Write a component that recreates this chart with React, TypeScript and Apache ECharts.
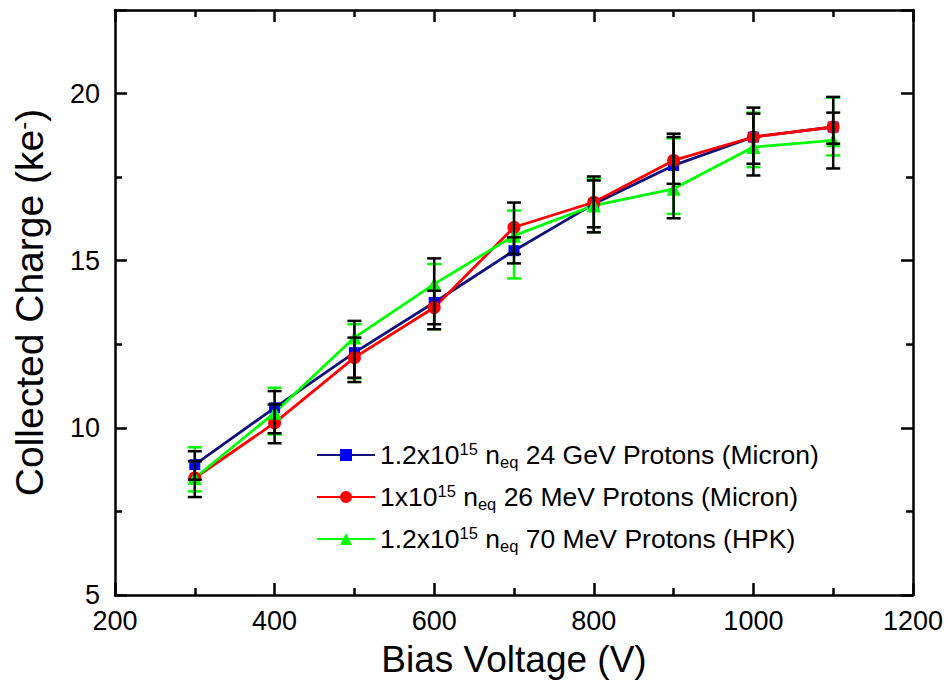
import React, { useEffect, useRef } from "react";
import * as echarts from "echarts";

const voltages = [300, 400, 500, 600, 700, 800, 900, 1000, 1100];
const blueCharge = [8.9, 10.6, 12.25, 13.75, 15.3, 16.7, 17.85, 18.7, 19.0];
const blueLow = [8.45, 9.84, 11.37, 12.95, 14.92, 15.85, 16.27, 17.55, 17.76];
const blueHigh = [9.3, 11.1, 13.2, 15.07, 15.7, 17.52, 18.8, 19.58, 19.9];
const redCharge = [8.5, 10.15, 12.1, 13.6, 16.0, 16.75, 18.0, 18.7, 19.0];
const redLow = [7.93, 9.54, 11.5, 13.1, 15.2, 16.0, 17.3, 17.9, 18.5];
const redHigh = [9.0, 10.7, 12.7, 14.1, 16.74, 17.4, 18.7, 19.4, 19.43];
const greenCharge = [8.5, 10.45, 12.7, 14.3, 15.75, 16.65, 17.15, 18.4, 18.6];
const greenLow = [8.1, 9.8, 11.48, 12.95, 14.47, 15.85, 16.4, 17.8, 18.15];
const greenHigh = [9.42, 11.2, 13.1, 14.9, 16.5, 17.45, 18.66, 19.43, 19.88];

const seriesNames = [
  "1.2x10^15 neq 24 GeV Protons (Micron)",
  "1x10^15 neq 26 MeV Protons (Micron)",
  "1.2x10^15 neq 70 MeV Protons (HPK)",
];
const legendRich = [
  "{t|1.2x10}{sup|15}{t| n}{sub|eq}{t| 24 GeV Protons (Micron)}",
  "{t|1x10}{sup|15}{t| n}{sub|eq}{t| 26 MeV Protons (Micron)}",
  "{t|1.2x10}{sup|15}{t| n}{sub|eq}{t| 70 MeV Protons (HPK)}",
];

const FONT = "Liberation Sans, Arial, sans-serif";

function errSeries(low: number[], high: number[], color: string, z: number) {
  return {
    type: "custom",
    z,
    silent: true,
    data: voltages.map((v, i) => [v, low[i], high[i]]),
    encode: { x: 0, y: [1, 2] },
    renderItem: (params: any, api: any) => {
      const x = api.value(0);
      const lo = api.value(1);
      const hi = api.value(2);
      const p1 = api.coord([x, hi]);
      const p2 = api.coord([x, lo]);
      const w = 7;
      const st = { stroke: color, lineWidth: 2.5 };
      return {
        type: "group",
        children: [
          { type: "line", shape: { x1: p1[0], y1: p1[1], x2: p2[0], y2: p2[1] }, style: st },
          { type: "line", shape: { x1: p1[0] - w, y1: p1[1], x2: p1[0] + w, y2: p1[1] }, style: st },
          { type: "line", shape: { x1: p2[0] - w, y1: p2[1], x2: p2[0] + w, y2: p2[1] }, style: st },
        ],
      };
    },
  };
}

export default function App() {
  const ref = useRef<HTMLDivElement>(null);
  useEffect(() => {
    document.body.style.margin = "0";
    const chart = echarts.init(ref.current!, null, { renderer: "svg" });
    const axisLine = { show: true, lineStyle: { color: "#000", width: 2.5 } };
    const tick = { show: true, inside: true, length: 12, lineStyle: { color: "#000", width: 2.5 } };
    const minor = { show: true, splitNumber: 2, length: 7, lineStyle: { color: "#000", width: 2.5 } };
    const option: any = {
      animation: false,
      backgroundColor: "#fff",
      grid: { left: 115, right: 35, top: 10, bottom: 94, containLabel: false },
      legend: {
        show: true,
        orient: "vertical",
        left: 311,
        top: 435,
        itemGap: 1,
        itemWidth: 58,
        itemHeight: 15,
        data: seriesNames,
        formatter: (name: string) => legendRich[seriesNames.indexOf(name)],
        textStyle: {
          fontFamily: FONT,
          color: "#000",
          rich: {
            t: { fontSize: 26.5, lineHeight: 30, verticalAlign: "middle", fontFamily: FONT, color: "#000" },
            sup: { fontSize: 16.5, lineHeight: 16, verticalAlign: "top", padding: [0, 0, 24, 0], fontFamily: FONT, color: "#000" },
            sub: { fontSize: 16.5, lineHeight: 16, verticalAlign: "bottom", fontFamily: FONT, color: "#000" },
          },
        },
      },
      xAxis: [
        {
          type: "value",
          min: 200,
          max: 1200,
          interval: 200,
          position: "bottom",
          name: "Bias Voltage (V)",
          nameLocation: "middle",
          nameGap: 46,
          nameTextStyle: { fontFamily: FONT, fontSize: 37, color: "#000" },
          axisLine,
          axisTick: tick,
          minorTick: minor,
          splitLine: { show: false },
          axisLabel: { fontFamily: FONT, fontSize: 27, color: "#000", margin: 12, formatter: (v: number) => String(v) },
        },
        {
          type: "value",
          min: 200,
          max: 1200,
          interval: 200,
          position: "top",
          axisLine,
          axisTick: tick,
          minorTick: minor,
          splitLine: { show: false },
          axisLabel: { show: false },
        },
      ],
      yAxis: [
        {
          type: "value",
          min: 5,
          max: 22.5,
          interval: 5,
          position: "left",
          name: "Collected Charge (ke{s|-})",
          nameLocation: "middle",
          nameGap: 66,
          nameTextStyle: {
            fontFamily: FONT,
            fontSize: 39,
            color: "#000",
            rich: {
              s: { fontSize: 24, lineHeight: 24, verticalAlign: "top", padding: [0, 0, 20, 0], fontFamily: FONT, color: "#000" },
            },
          },
          axisLine,
          axisTick: tick,
          minorTick: minor,
          splitLine: { show: false },
          axisLabel: { fontFamily: FONT, fontSize: 27, color: "#000", margin: 15, showMaxLabel: false },
        },
        {
          type: "value",
          min: 5,
          max: 22.5,
          interval: 5,
          position: "right",
          axisLine,
          axisTick: tick,
          minorTick: minor,
          splitLine: { show: false },
          axisLabel: { show: false },
        },
      ],
      series: [
        {
          name: seriesNames[0],
          type: "line",
          z: 3,
          data: voltages.map((v, i) => [v, blueCharge[i]]),
          symbol: "rect",
          symbolSize: 11,
          lineStyle: { color: "#10107a", width: 2.8 },
          itemStyle: { color: "#0000ff" },
        },
        {
          name: seriesNames[1],
          type: "line",
          z: 3,
          data: voltages.map((v, i) => [v, redCharge[i]]),
          symbol: "circle",
          symbolSize: 13,
          lineStyle: { color: "#ff0000", width: 2.8 },
          itemStyle: { color: "#ff0000" },
        },
        {
          name: seriesNames[2],
          type: "line",
          z: 3,
          data: voltages.map((v, i) => [v, greenCharge[i]]),
          symbol: "triangle",
          symbolSize: 14,
          lineStyle: { color: "#00ff00", width: 2.8 },
          itemStyle: { color: "#00ff00" },
        },
        errSeries(greenLow, greenHigh, "#00ff00", 4),
        errSeries(redLow, redHigh, "#000000", 5),
        errSeries(blueLow, blueHigh, "#000000", 5),
      ],
    };
    chart.setOption(option);
    return () => chart.dispose();
  }, []);
  return <div ref={ref} style={{ width: 948, height: 689 }} />;
}
